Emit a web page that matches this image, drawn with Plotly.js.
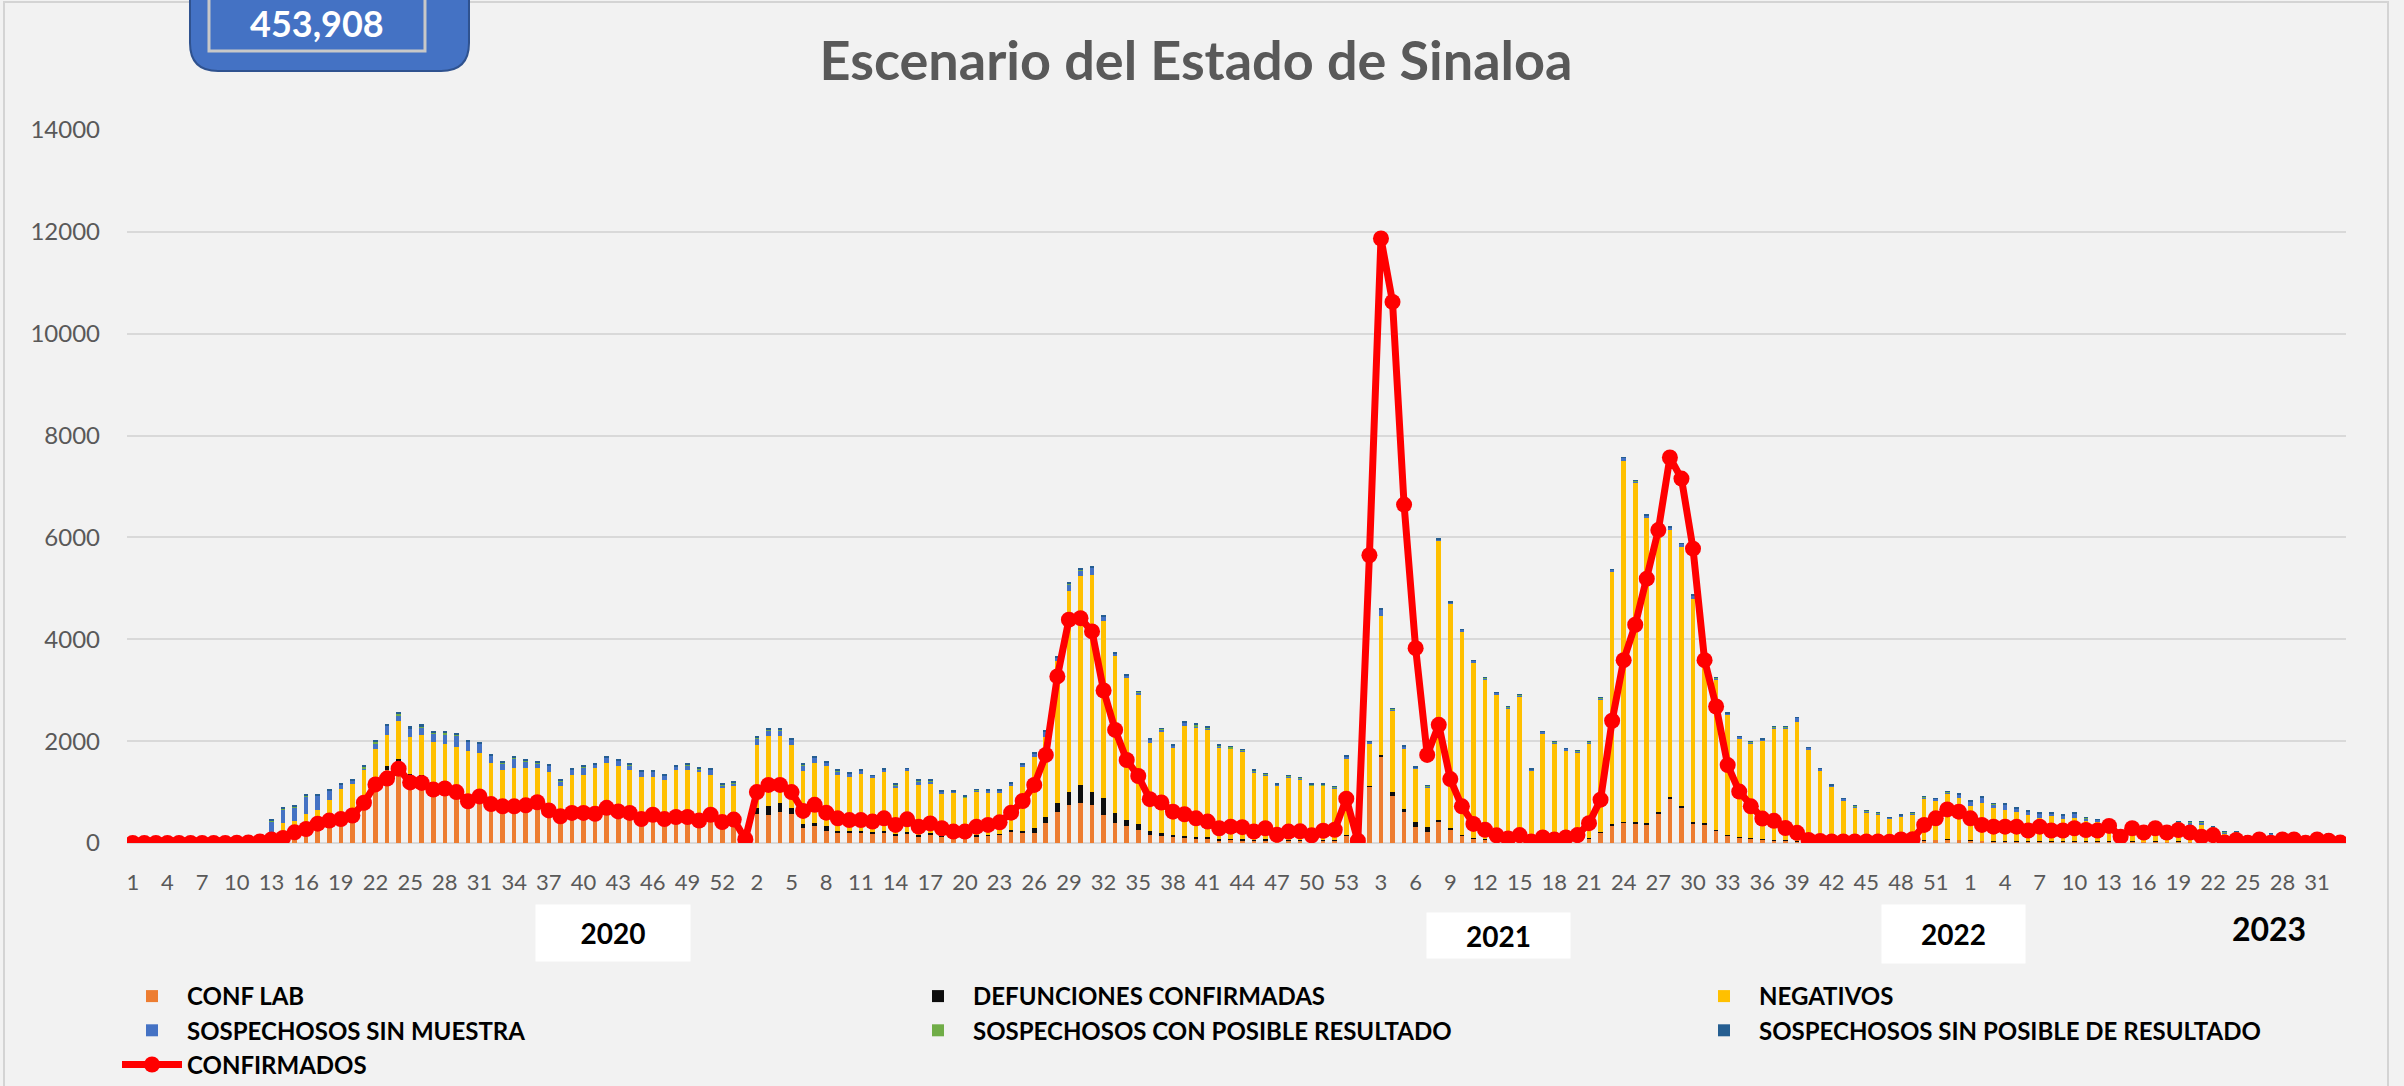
<!DOCTYPE html>
<html><head><meta charset="utf-8">
<script src="https://cdn.plot.ly/plotly-3.0.1.min.js"></script>
<style>html,body{margin:0;padding:0;background:#f2f2f2;} #chart{width:2404px;height:1086px;}</style>
</head><body><div id="chart"></div>
<script>
// ---- categories ----
const anios = [2020, 2021, 2022, 2023];
const semanasPorAnio = [53, 53, 53, 33];
const etiquetasAnio = ['2020', '2021', '2022', '2023'];
const totalGeneral = '453,908';

// ---- series (weekly values) ----
const confLab = [
  0,0,0,0,0,0,0,0,0,0,0,10,60,100,200,270,370,440,480,560,850,1200,1430,1585,1300,1280,1150,1130,1080,880,980,820,780,780,790,850,690,560,630,630,610,740,660,630,500,590,500,540,540,470,590,440,490,
  40,560,550,600,560,300,330,245,200,190,190,170,200,150,190,130,160,120,90,90,130,140,160,230,190,190,385,615,745,795,745,550,385,330,250,150,140,110,100,90,80,55,60,55,40,50,30,40,40,30,40,45,150,
  10,1100,1685,925,605,320,215,430,260,140,80,60,40,30,40,15,30,20,30,40,90,200,345,400,390,370,580,865,690,370,370,250,150,110,80,60,50,40,30,15,10,10,10,10,10,10,10,15,15,50,60,70,60,
  50,40,35,35,35,30,35,30,30,30,30,30,35,15,30,25,30,25,30,25,15,20,5,10,5,10,5,10,10,5,10,5,5
];
const defunciones = [
  0,0,0,0,0,0,0,0,0,0,0,0,0,5,8,10,15,20,25,30,45,50,90,65,60,65,55,52,50,45,40,40,35,35,35,30,30,30,28,25,25,25,25,25,25,25,25,25,25,25,30,30,35,
  5,130,175,180,130,80,70,80,40,40,40,40,40,35,35,30,30,25,25,20,20,25,25,30,50,100,120,175,260,345,260,330,210,130,130,85,60,50,40,35,30,25,25,20,20,20,15,15,15,10,10,10,15,
  0,20,40,70,60,85,100,30,25,20,15,10,10,10,10,10,10,10,10,10,10,10,20,15,15,15,30,30,40,45,20,15,10,10,10,10,10,10,10,5,5,5,5,5,5,3,3,3,3,3,3,3,3,
  3,3,3,3,3,3,3,3,3,3,3,3,2,2,2,2,2,2,2,2,2,2,2,2,2,2,2,2,2,2,2,2,2
];
const negativos = [
  0,0,0,0,0,0,0,0,0,0,0,10,60,285,217,280,270,375,560,570,530,595,595,740,715,770,770,763,755,875,740,715,615,660,650,595,670,525,687,690,840,810,835,775,775,685,720,865,865,895,725,610,590,
  15,1240,1380,1325,1235,1040,1165,1195,1095,1075,1125,1070,1145,890,1185,980,960,825,875,775,845,810,790,855,1245,1405,1585,2775,3940,4095,4265,3470,3085,2795,2545,1725,1970,1715,2160,2150,2110,1800,1770,1725,1330,1260,1080,1240,1190,1080,1070,1015,1500,
  10,820,2735,1605,1180,1050,770,5470,4410,3995,3455,3140,2875,2605,2825,1390,2100,1920,1785,1725,1850,2610,4975,7095,6665,6015,5545,5265,5080,4370,3285,2940,2355,1935,1860,1935,2190,2200,2345,1810,1405,1085,825,680,585,552,462,502,537,817,777,897,817,
  677,737,652,612,562,517,447,492,432,467,402,377,313,198,188,213,198,213,323,333,343,258,178,163,113,78,123,78,78,53,48,123,28
];
const sospSinMuestra = [
  0,0,0,0,0,0,0,0,0,0,0,0,300,260,270,350,270,195,75,60,40,110,185,120,170,145,170,170,230,190,190,140,135,185,130,95,130,95,100,140,60,100,100,100,100,100,75,65,100,60,100,55,60,
  0,130,100,100,100,110,110,65,75,60,60,40,60,60,45,75,65,45,25,15,40,60,60,50,55,60,90,70,130,120,130,95,40,30,25,70,60,30,60,20,15,10,10,10,15,10,20,15,15,10,10,15,25,
  0,45,120,30,50,30,30,30,30,30,30,25,25,25,30,30,40,30,25,30,30,25,30,50,35,35,35,35,65,75,35,30,30,30,30,30,25,25,75,40,40,30,30,30,25,20,20,20,30,30,30,30,70,
  80,110,75,110,75,70,95,55,70,80,55,45,30,30,25,40,50,40,55,50,50,30,30,40,25,25,50,25,25,20,20,50,15
];
const sospConPosible = [
  0,0,0,0,0,0,0,0,0,0,0,0,10,10,5,20,10,10,5,5,20,35,10,15,10,10,25,60,15,10,5,10,10,15,15,10,10,10,5,10,5,5,5,5,5,5,5,5,5,5,5,5,5,
  0,15,15,20,15,10,10,5,5,5,5,5,5,5,5,5,5,5,5,20,10,5,5,5,10,10,10,15,15,15,10,10,10,10,15,10,10,10,10,35,40,30,25,25,25,25,10,20,20,25,25,15,15,
  0,5,5,5,5,5,5,5,5,5,5,5,5,5,5,5,5,5,5,5,5,5,5,5,5,5,5,5,5,5,5,5,5,5,5,5,5,5,5,5,5,5,5,5,5,5,5,5,5,5,5,5,5,
  5,5,5,5,5,5,5,5,5,5,5,5,5,5,5,5,5,5,5,5,5,5,5,5,5,5,5,5,5,5,5,5,5
];
const sospSinPosible = [
  0,0,0,0,0,0,0,0,0,0,0,0,40,40,40,40,35,30,20,20,40,40,35,50,35,70,35,30,30,30,25,25,30,30,30,25,30,25,25,25,20,25,25,25,25,25,20,20,25,20,25,20,20,
  0,30,35,30,30,25,25,20,20,15,15,10,20,20,10,20,20,10,10,5,10,15,15,15,15,15,20,15,30,30,35,25,10,10,10,20,15,10,15,10,10,5,5,5,5,5,5,5,5,5,5,5,5,
  0,10,25,5,5,5,5,5,5,5,5,5,5,5,5,5,5,5,5,5,5,5,5,5,5,5,5,5,5,5,5,5,5,5,5,5,5,5,5,5,5,5,5,5,5,5,5,5,5,5,5,5,10,
  10,15,10,15,10,10,10,10,10,10,10,5,5,5,5,5,5,5,5,5,5,5,5,5,5,5,5,5,5,5,5,5,5
];
const confirmados = [
  0,0,0,0,0,0,0,0,2,5,12,30,70,100,210,275,380,440,470,540,790,1150,1265,1460,1190,1180,1050,1070,1000,820,915,765,720,720,740,800,640,525,590,590,575,690,620,590,470,555,470,510,510,440,555,410,460,
  75,1000,1140,1140,1000,630,750,595,485,450,450,420,485,355,465,320,385,290,225,225,320,355,405,595,825,1140,1730,3270,4385,4415,4155,2995,2220,1630,1315,860,795,615,565,485,420,290,320,310,225,290,160,225,230,150,240,260,870,
  45,5650,11870,10625,6645,3825,1730,2320,1255,720,375,260,150,90,155,30,110,70,110,155,390,850,2400,3590,4285,5190,6145,7570,7155,5780,3590,2680,1530,1010,720,480,435,295,200,60,40,30,30,30,30,30,25,70,75,355,485,660,615,
  485,355,320,320,320,245,320,245,245,290,255,245,335,125,290,205,290,205,255,205,125,155,10,60,5,70,5,70,70,5,70,45,10
];

// ---- category axis built from weeks ----
const categorias = [], semanas = [];
anios.forEach((a, k) => { for (let w = 1; w <= semanasPorAnio[k]; w++) { categorias.push(a + '-S' + w); semanas.push(w); } });
const tickvals = categorias.filter((c, i) => i % 3 === 0);
const ticktext = semanas.filter((s, i) => i % 3 === 0).map(String);

// ---- pixel -> paper helpers for decorations ----
const L = 127, R = 2346, T = 130, B = 843;
const px = v => ((v - L) / (R - L)).toFixed(5);
const py = v => ((B - v) / (B - T)).toFixed(5);

const FONT = 'Lato, "Open Sans", sans-serif';
const legendFont = {family: FONT, size: 24, color: '#000000', weight: 'bold'};

function barTrace(name, y, color, legend) {
  return {type: 'bar', name: name, x: categorias, y: y, marker: {color: color, line: {width: 0}}, legend: legend, hoverinfo: 'skip'};
}

const data = [
  barTrace('CONF LAB', confLab, '#ED7D31', 'legend'),
  barTrace('DEFUNCIONES CONFIRMADAS', defunciones, '#0D0D0D', 'legend2'),
  barTrace('NEGATIVOS', negativos, '#FFC000', 'legend3'),
  barTrace('SOSPECHOSOS SIN MUESTRA', sospSinMuestra, '#4472C4', 'legend'),
  barTrace('SOSPECHOSOS CON POSIBLE RESULTADO', sospConPosible, '#70AD47', 'legend2'),
  barTrace('SOSPECHOSOS SIN POSIBLE DE RESULTADO', sospSinPosible, '#255E91', 'legend3'),
  {type: 'scatter', mode: 'lines+markers', name: 'CONFIRMADOS', x: categorias, y: confirmados,
   line: {color: '#FF0000', width: 7}, marker: {color: '#FF0000', size: 16}, legend: 'legend', hoverinfo: 'skip'}
];

function legendAt(x) {
  return {orientation: 'v', xref: 'container', yref: 'container', x: x, y: 1 - 974 / 1086,
    xanchor: 'left', yanchor: 'top', bgcolor: 'rgba(0,0,0,0)', font: legendFont,
    itemwidth: 60, traceorder: 'grouped', tracegroupgap: 12};
}

function yearBox(text, cx, cy, w, h, size, bg) {
  return {xref: 'paper', yref: 'paper', x: +px(cx), y: +py(cy), xanchor: 'center', yanchor: 'middle',
    text: text, showarrow: false, width: w, height: h, bgcolor: bg, borderpad: 0,
    font: {family: FONT, size: size, color: '#000000', weight: 'bold'}};
}

const layout = {
  width: 2404, height: 1086,
  paper_bgcolor: '#f2f2f2', plot_bgcolor: 'rgba(0,0,0,0)',
  margin: {l: L, r: 2404 - R, t: T, b: 1086 - B, autoexpand: false},
  barmode: 'stack', bargap: 0.6,
  title: {text: 'Escenario del Estado de Sinaloa', x: 1196 / 2404, xref: 'container', xanchor: 'center',
    y: 1 - 61 / 1086, yref: 'container', yanchor: 'middle',
    font: {family: FONT, size: 54, color: '#595959', weight: 'bold'}},
  xaxis: {type: 'category', tickmode: 'array', tickvals: tickvals, ticktext: ticktext, tickangle: 0,
    range: [-0.5, categorias.length - 0.5], autorange: false,
    tickfont: {family: FONT, size: 22, color: '#595959'}, ticks: '', ticklabelstandoff: 24,
    showgrid: false, showline: false, zeroline: false},
  yaxis: {range: [0, 14000], autorange: false, dtick: 2000, tickformat: 'd',
    tickfont: {family: FONT, size: 24, color: '#595959'},
    ticks: '', ticklabelstandoff: 26, showgrid: true, gridcolor: '#d9d9d9', gridwidth: 2,
    zeroline: true, zerolinecolor: '#d9d9d9', zerolinewidth: 2, showline: false},
  legend: legendAt(117 / 2404),
  legend2: legendAt(903 / 2404),
  legend3: legendAt(1689 / 2404),
  shapes: [
    {type: 'rect', xref: 'paper', yref: 'paper', x0: +px(4), x1: +px(2388), y0: +py(1100), y1: +py(2),
     line: {color: '#d4d4d4', width: 2}, fillcolor: 'rgba(0,0,0,0)', layer: 'below'},
    {type: 'path', xref: 'paper', yref: 'paper',
     path: `M ${px(190)},${py(-20)} L ${px(190)},${py(43)} Q ${px(190)},${py(71)} ${px(218)},${py(71)} L ${px(441)},${py(71)} Q ${px(469)},${py(71)} ${px(469)},${py(43)} L ${px(469)},${py(-20)} Z`,
     fillcolor: '#4472C4', line: {color: '#2F528F', width: 2}, layer: 'above'},
    {type: 'rect', xref: 'paper', yref: 'paper', x0: +px(209), x1: +px(425), y0: +py(51), y1: +py(-10),
     line: {color: '#c8c8c8', width: 3}, fillcolor: 'rgba(0,0,0,0)', layer: 'above'}
  ],
  annotations: [
    {xref: 'paper', yref: 'paper', x: +px(317), y: +py(23), xanchor: 'center', yanchor: 'middle',
     text: totalGeneral, showarrow: false, font: {family: FONT, size: 36, color: '#ffffff', weight: 'bold'}},
    yearBox(etiquetasAnio[0], 613, 933, 154, 56, 28, '#ffffff'),
    yearBox(etiquetasAnio[1], 1498, 936, 143, 45, 28, '#ffffff'),
    yearBox(etiquetasAnio[2], 1954, 934, 143, 58, 28, '#ffffff'),
    yearBox(etiquetasAnio[3], 2269, 928, 90, 40, 32, 'rgba(0,0,0,0)')
  ]
};

Plotly.newPlot('chart', data, layout, {displayModeBar: false, responsive: false});
</script>
</body></html>
